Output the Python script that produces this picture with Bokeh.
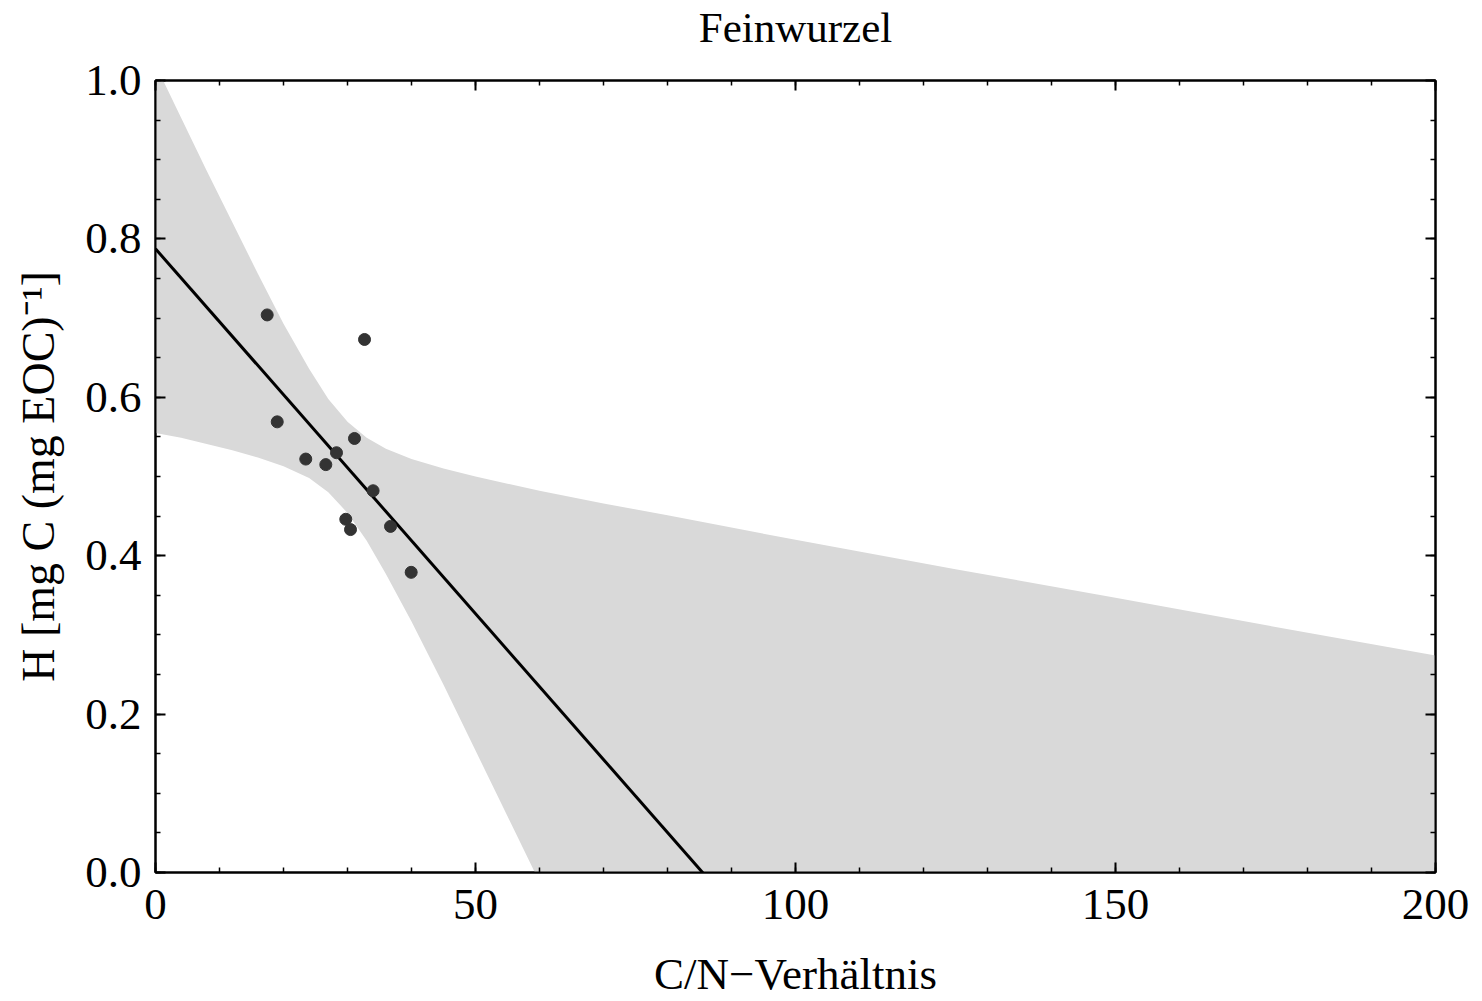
from bokeh.plotting import figure
from bokeh.models import (LinearAxis, SingleIntervalTicker, PrintfTickFormatter, Range1d,
                          CustomJSTickFormatter)
from bokeh.embed import file_html
from bokeh.resources import INLINE

# measured points (C/N ratio vs H)
cn_ratio = [17.45, 19.02, 23.48, 26.61, 28.28, 31.09, 32.66, 29.73, 30.47, 34.0, 36.72, 39.95]
h_values = [0.704, 0.569, 0.522, 0.515, 0.530, 0.548, 0.673, 0.446, 0.433, 0.482, 0.437, 0.379]

# fitted regression line (end points)
fit_x = [0, 200]
fit_y = [0.7875, -1.055]

# confidence band boundaries
band_x = [0, 4, 8, 12, 16, 20, 24, 27, 30, 33, 36, 40, 45, 50, 55, 60, 70, 80, 100, 125, 150, 175, 200]
band_upper = [1.020, 0.953, 0.886, 0.821, 0.756, 0.693, 0.636, 0.598, 0.569, 0.549, 0.535, 0.522,
              0.510, 0.500, 0.491, 0.482, 0.466, 0.451, 0.420, 0.383, 0.347, 0.310, 0.274]
band_lower = [0.555, 0.549, 0.541, 0.533, 0.524, 0.513, 0.498, 0.480, 0.454, 0.419, 0.377, 0.317,
              0.237, 0.154, 0.071, -0.012, -0.180, -0.349, -0.687, -1.111, -1.535, -1.959, -2.382]

TITLE = "Feinwurzel"
X_LABEL = "C/N\u2212Verhältnis"
Y_LABEL = "H [mg C (mg EOC)\u207b\u00b9]"

FONT = "Liberation Serif"
FS = "45px"

p = figure(width=1474, height=1001, output_backend="svg", toolbar_location=None, title=None,
           x_range=Range1d(0, 200), y_range=Range1d(0, 1),
           min_border_left=155, min_border_right=39, min_border_top=80, min_border_bottom=129,
           x_axis_label=X_LABEL, y_axis_label=Y_LABEL)

p.xgrid.visible = False
p.ygrid.visible = False
p.outline_line_color = "black"
p.outline_line_width = 2
p.background_fill_color = "white"
p.border_fill_color = "white"

p.varea(x=band_x, y1=band_lower, y2=band_upper, fill_color="#d9d9d9", fill_alpha=1.0)
p.line(x=fit_x, y=fit_y, line_color="black", line_width=3)
p.scatter(x=cn_ratio, y=h_values, size=12, marker="circle", fill_color="#333333", line_color="#333333")

bottom_ax = p.below[0]
left_ax = p.left[0]
bottom_ax.ticker = SingleIntervalTicker(interval=50, num_minor_ticks=5)
left_ax.ticker = SingleIntervalTicker(interval=0.2, num_minor_ticks=4)
left_ax.formatter = PrintfTickFormatter(format="%.1f")

blank = CustomJSTickFormatter(code="return '';")
# top axis mirrors the ticks and carries the chart title
top_ax = LinearAxis(ticker=SingleIntervalTicker(interval=50, num_minor_ticks=5), formatter=blank,
                    axis_label=TITLE)
right_ax = LinearAxis(ticker=SingleIntervalTicker(interval=0.2, num_minor_ticks=4), formatter=blank)
p.add_layout(top_ax, "above")
p.add_layout(right_ax, "right")
for ax in (top_ax, right_ax):
    ax.major_label_standoff = 0

for ax in (bottom_ax, left_ax, top_ax, right_ax):
    ax.axis_line_color = "black"
    ax.axis_line_width = 2
    ax.major_tick_in = 10
    ax.major_tick_out = 0
    ax.minor_tick_in = 5
    ax.minor_tick_out = 0
    ax.major_tick_line_color = "black"
    ax.minor_tick_line_color = "black"
    ax.major_tick_line_width = 2
    ax.minor_tick_line_width = 1.5
    ax.major_label_text_font = FONT
    ax.major_label_text_color = "black"
    ax.major_label_text_font_size = FS
    ax.axis_label_text_font = FONT
    ax.axis_label_text_font_style = "normal"
    ax.axis_label_text_font_size = FS
    ax.axis_label_text_color = "black"

top_ax.axis_label_text_font_size = "43px"
top_ax.axis_label_standoff = 30
left_ax.axis_label_text_font_size = "46px"
bottom_ax.major_label_standoff = 17
left_ax.major_label_standoff = 14
bottom_ax.axis_label_standoff = 27
left_ax.axis_label_standoff = 18

open("out.html", "w").write(file_html(p, INLINE))
